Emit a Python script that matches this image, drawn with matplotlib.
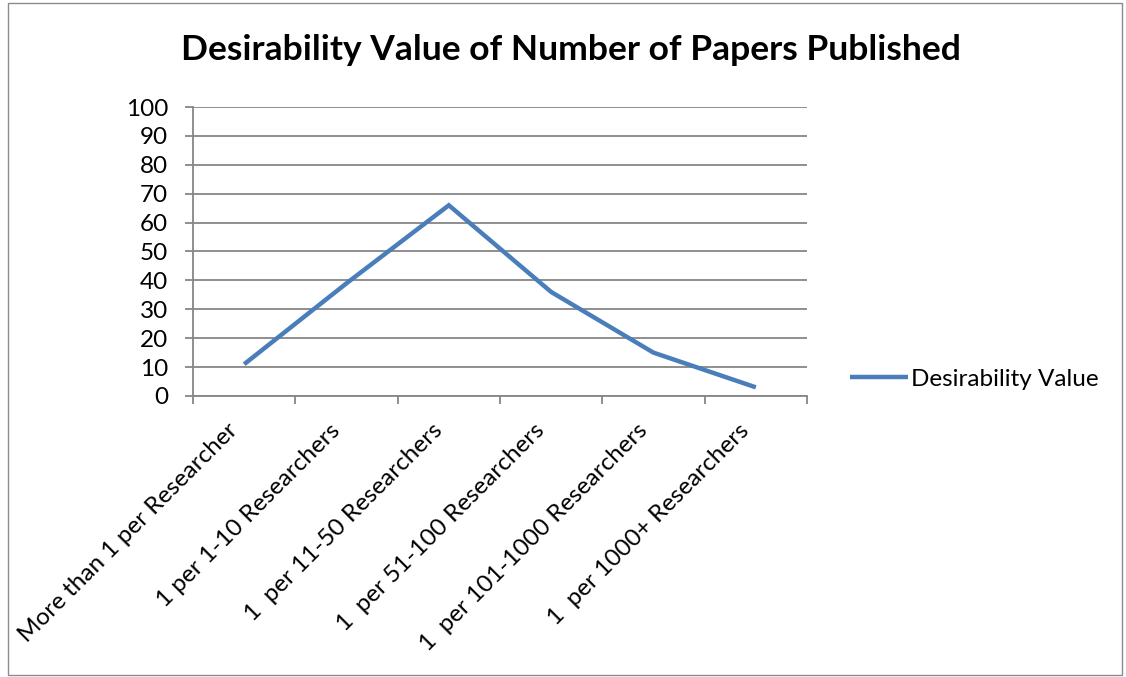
import matplotlib
matplotlib.use("Agg")
import matplotlib.pyplot as plt
from matplotlib.patches import Rectangle
from matplotlib.transforms import ScaledTranslation

plt.rcParams['font.family'] = ['Lato', 'DejaVu Sans']

categories = [
    "More than 1 per Researcher",
    "1 per 1-10 Researchers",
    "1  per 11-50 Researchers",
    "1  per 51-100 Researchers",
    "1  per 101-1000 Researchers",
    "1  per 1000+ Researchers",
]
desirability = [11, 39, 66, 36, 15, 3]
y_ticks = [0, 10, 20, 30, 40, 50, 60, 70, 80, 90, 100]
series_name = "Desirability Value"
title = "Desirability Value of Number of Papers Published"

W, H = 1126, 677
fig = plt.figure(figsize=(W / 100, H / 100), dpi=100)
fig.patch.set_facecolor("white")

# outer chart-area border
fig.add_artist(Rectangle((8 / W, 2 / H), 1114 / W, 672 / H, transform=fig.transFigure,
                         fill=False, edgecolor="#8c8c8c", linewidth=1.0))

left, right, top, bottom = 193, 807, 107, 396
ax = fig.add_axes([left / W, 1 - bottom / H, (right - left) / W, (bottom - top) / H])

x = list(range(len(categories)))
ax.plot(x, desirability, color="#4a7ebb", linewidth=3.2, solid_capstyle="butt",
        solid_joinstyle="miter", label=series_name, zorder=3)

ax.set_xlim(-0.5, len(categories) - 0.5)
ax.set_ylim(0, 100)
ax.set_yticks(y_ticks)
ax.set_yticklabels([str(v) for v in y_ticks], fontsize=17.5, color="#000000")
ax.yaxis.grid(True, color="#868686", linewidth=1.3)
ax.set_axisbelow(True)

# category boundary ticks
ax.set_xticks([i - 0.5 for i in range(len(categories) + 1)])
ax.set_xticklabels([])
ax.set_xticks(x, minor=True)
ax.set_xticklabels(categories, minor=True, rotation=45, ha="right", va="top",
                   rotation_mode="anchor", fontsize=17.5)
ax.tick_params(axis="x", which="minor", length=0, pad=17)
ax.tick_params(axis="x", which="major", length=6, color="#868686", width=1.3, direction="out")
ax.tick_params(axis="y", length=6, color="#868686", width=1.3, pad=12)

# shift the slanted category labels so their ends sit just left of each point
shift = ScaledTranslation(-17 / 100, 0, fig.dpi_scale_trans)
for lbl in ax.get_xticklabels(minor=True):
    lbl.set_transform(lbl.get_transform() + shift)

for side in ["top", "right"]:
    ax.spines[side].set_visible(False)
for side in ["left", "bottom"]:
    ax.spines[side].set_color("#868686")
    ax.spines[side].set_linewidth(1.3)

fig.text(571 / W, 1 - 50 / H, title, ha="center", va="center", fontsize=25.5,
         fontweight="bold", color="#000000")

leg = ax.legend(loc="center left", bbox_to_anchor=(838 / W, 1 - 379 / H),
                bbox_transform=fig.transFigure, frameon=False, fontsize=17.5,
                handlelength=2.4, handletextpad=0.1, borderpad=0)

fig.savefig("out.png", dpi=100, facecolor="white")
